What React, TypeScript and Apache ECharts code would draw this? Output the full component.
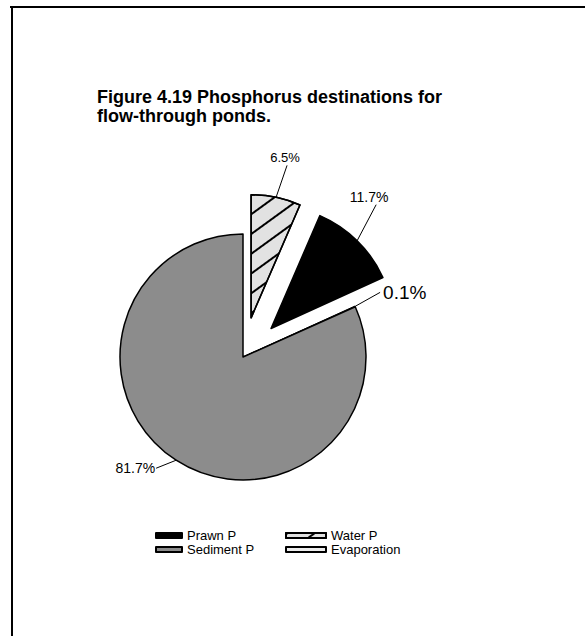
import React, { useEffect, useRef } from "react";
import * as echarts from "echarts";

const categories = ["Water P", "Prawn P", "Evaporation", "Sediment P"];
const values = [6.5, 11.7, 0.1, 81.7];
const exploded = [true, true, false, false];
const legendLeft = ["Prawn P", "Sediment P"];
const legendRight = ["Water P", "Evaporation"];
const titleText = "Figure 4.19 Phosphorus destinations for\nflow-through ponds.";

const FONT = "'Liberation Sans', Arial, Helvetica, sans-serif";
const CENTER = [243, 357];
const RADIUS = 123;
const EXPLODE = 40;

// leader-line direction (from the slice anchor) and label placement, per slice
const leader = [
  { v: [11, -32], dx: -2, dy: -1, align: "center", va: "bottom" },
  { v: [19, -36], dx: -7, dy: -1, align: "center", va: "bottom" },
  { v: [25, -14], dx: 3, dy: 0, align: "left", va: "middle" },
  { v: [-20, 8], dx: -1, dy: 0, align: "right", va: "middle" },
];

export default function App() {
  const ref = useRef<HTMLDivElement>(null);
  useEffect(() => {
    if (!ref.current) return;
    const chart = echarts.init(ref.current, undefined, { renderer: "svg" });
    const styles: any[] = [
      {
        color: "#e2e2e2",
        borderColor: "#000",
        borderWidth: 1.5,
        decal: {
          symbol: "rect",
          symbolSize: 1,
          dashArrayX: [1, 0],
          dashArrayY: [1.5, 14],
          rotation: -Math.PI / 5,
          color: "#000",
        },
      },
      { color: "#000", borderColor: "#000", borderWidth: 1.5 },
      { color: "#ececec", borderColor: "#000", borderWidth: 1 },
      { color: "#8c8c8c", borderColor: "#000", borderWidth: 1.5 },
    ];
    const labelSizes = [13, 14, 19, 14];
    const total = values.reduce((a, b) => a + b, 0);

    const hidden = (i: number) => ({
      name: "",
      value: values[i],
      itemStyle: { color: "rgba(0,0,0,0)", borderWidth: 0, decal: "none" },
      label: { show: false },
      labelLine: { show: false },
    });
    const shown = (i: number) => ({
      name: categories[i],
      value: values[i],
      itemStyle: styles[i],
      label: { fontSize: labelSizes[i] },
    });

    const labelLayout = (params: any) => {
      const L = leader[params.dataIndex];
      const pts = params.labelLinePoints;
      if (!L || !pts) return {};
      const p0 = pts[0];
      const end = [p0[0] + L.v[0], p0[1] + L.v[1]];
      return {
        x: end[0] + L.dx,
        y: end[1] + L.dy,
        align: L.align,
        verticalAlign: L.va,
        labelLinePoints: [p0, end, end],
      };
    };

    const baseSeries = (center: number[], data: any[]) => ({
      type: "pie",
      center,
      radius: [0, RADIUS],
      startAngle: 90,
      clockwise: true,
      avoidLabelOverlap: false,
      selectedMode: false,
      label: {
        show: true,
        position: "outside",
        formatter: "{c}%",
        color: "#000",
        fontFamily: FONT,
      },
      labelLine: { show: true, length: 20, length2: 0, lineStyle: { color: "#000", width: 1 } },
      labelLayout,
      emphasis: { disabled: true },
      data,
    });

    const series: any[] = [];
    // main pie: slices that are not pulled out
    series.push(
      baseSeries(
        CENTER,
        categories.map((_, i) => (exploded[i] ? hidden(i) : shown(i)))
      )
    );
    // one pie per pulled-out slice, shifted along its mid angle
    let cum = 0;
    values.forEach((v, k) => {
      const mid = ((90 - (360 * (cum + v / 2)) / total) * Math.PI) / 180;
      cum += v;
      if (!exploded[k]) return;
      const c = [CENTER[0] + EXPLODE * Math.cos(mid), CENTER[1] - EXPLODE * Math.sin(mid)];
      series.push(baseSeries(c, categories.map((_, i) => (i === k ? shown(i) : hidden(i)))));
    });

    const legendCommon = {
      orient: "vertical",
      top: 524,
      itemGap: 1,
      icon: "rect",
      itemHeight: 5,
      selectedMode: false,
      textStyle: { fontFamily: FONT, fontSize: 13, color: "#000" },
    };
    chart.setOption({
      animation: false,
      backgroundColor: "#fff",
      title: {
        text: titleText,
        left: 92,
        top: 82,
        textStyle: {
          fontFamily: FONT,
          fontSize: 18,
          fontWeight: "bold",
          color: "#000",
          lineHeight: 19,
        },
      },
      legend: [
        { ...legendCommon, left: 150, itemWidth: 26, data: legendLeft },
        { ...legendCommon, left: 280, itemWidth: 40, data: legendRight },
      ],
      graphic: [
        { type: "line", shape: { x1: 10, y1: 7, x2: 585, y2: 7 }, style: { stroke: "#000", lineWidth: 2 } },
        { type: "line", shape: { x1: 12, y1: 7, x2: 12, y2: 636 }, style: { stroke: "#000", lineWidth: 2 } },
      ],
      series,
    });
    return () => chart.dispose();
  }, []);
  return (
    <div
      ref={ref}
      style={{ position: "fixed", left: 0, top: 0, width: 585, height: 636 }}
    />
  );
}
